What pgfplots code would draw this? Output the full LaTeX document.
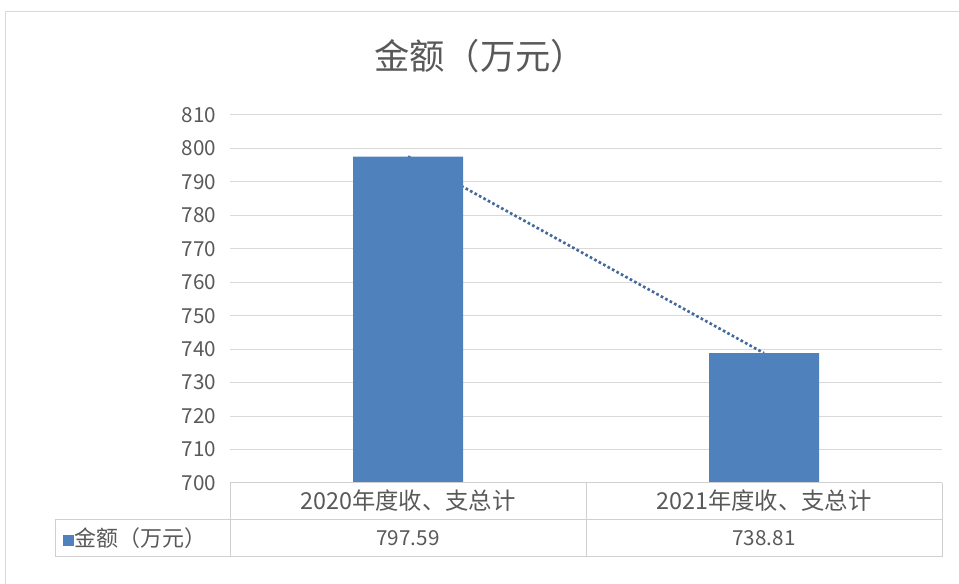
\documentclass[border=0pt]{standalone}
\usepackage{fontspec}
\setmainfont{Noto Sans CJK SC}
\usepackage{pgfplots}
\pgfplotsset{compat=1.18}
\definecolor{barblue}{HTML}{4F81BD}
\definecolor{trendblue}{HTML}{46699C}
\definecolor{txtgray}{HTML}{595959}
\definecolor{gridgray}{HTML}{D9D9D9}
\definecolor{tablegray}{HTML}{D0D0D0}
\begin{document}
\begin{tikzpicture}
\path[use as bounding box] (0,0) rectangle (719.25pt,438pt);
% outer chart frame
\draw[gridgray, line width=0.75pt] (3.75pt,0pt) -- (3.75pt,429pt) -- (719.25pt,429pt);
% title
\node[txtgray, font=\fontsize{26.5}{30}\selectfont] at (360pt,396pt) {金额（万元）};
\begin{axis}[
  at={(172.5pt,75.75pt)}, anchor=south west,
  scale only axis, width=534pt, height=276pt,
  xmin=-0.5, xmax=1.5, ymin=700, ymax=810,
  ytick={700,710,...,810},
  xtick={0,1},
  xticklabels={2020年度收、支总计,2021年度收、支总计},
  axis line style={draw=none},
  major tick length=0pt,
  ymajorgrids, grid style={gridgray, line width=0.75pt},
  /pgf/number format/assume math mode=true,
  yticklabel style={font=\fontsize{15.5}{18}\selectfont, text=txtgray, xshift=-7pt},
  xticklabel style={font=\fontsize{17.5}{20}\selectfont, text=txtgray, anchor=center, yshift=-13.5pt},
  clip=false,
]
\addplot[trendblue, line width=2pt, line cap=butt, dash pattern=on 2pt off 1.8pt] coordinates {(0,797.59) (1,738.81)};
\addplot[ybar, bar width=82.5pt, fill=barblue, draw=none] coordinates {(0,797.59) (1,738.81)};
\addplot[draw=none, mark=none, point meta=explicit symbolic,
  nodes near coords,
  every node near coord/.style={anchor=center, font=\fontsize{15.5}{18}\selectfont, text=txtgray}]
  coordinates {(0,683.4)[797.59] (1,683.4)[738.81]};
\end{axis}
% data table lines
\draw[tablegray, line width=0.75pt]
  (172.5pt,75.75pt) -- (706.5pt,75.75pt)
  (41.25pt,48pt) -- (706.5pt,48pt)
  (41.25pt,20.25pt) -- (706.5pt,20.25pt)
  (41.25pt,20.25pt) -- (41.25pt,48pt)
  (172.5pt,20.25pt) -- (172.5pt,75.75pt)
  (439.5pt,20.25pt) -- (439.5pt,75.75pt)
  (706.5pt,20.25pt) -- (706.5pt,75.75pt);
\node[anchor=west, inner sep=0pt, txtgray, font=\fontsize{16.5}{19}\selectfont] at (47pt,34.1pt)
  {\textcolor{barblue}{\rule[0.5pt]{8.5pt}{8.5pt}}金额（万元）};
\end{tikzpicture}
\end{document}
